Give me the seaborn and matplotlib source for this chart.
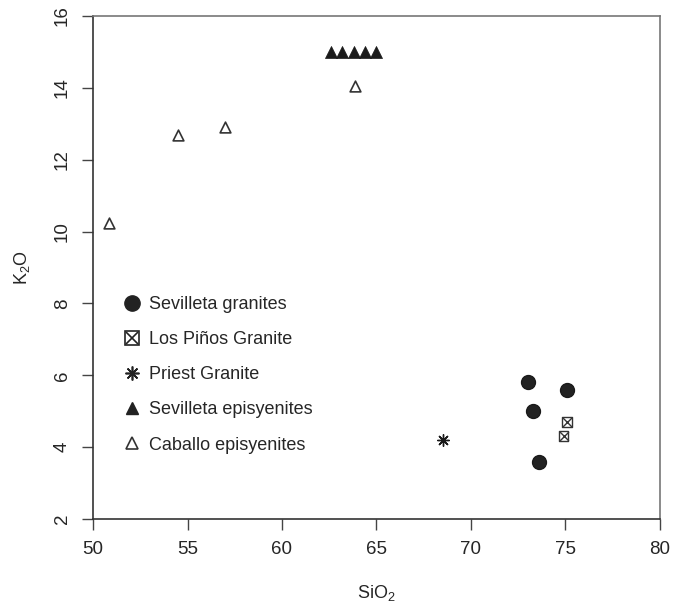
import pandas as pd
import seaborn as sns
import matplotlib.pyplot as plt
from matplotlib.lines import Line2D
from matplotlib.legend_handler import HandlerTuple

# SiO2 / K2O values
sev_granite_sio2 = [73.0, 75.1, 73.3, 73.6]
sev_granite_k2o = [5.8, 5.6, 5.0, 3.6]

pinos_sio2 = [75.1, 74.9]
pinos_k2o = [4.7, 4.3]

priest_sio2 = [68.5]
priest_k2o = [4.2]

sev_epi_sio2 = [62.6, 63.2, 63.8, 64.4, 65.0]
sev_epi_k2o = [15.0, 15.0, 15.0, 15.0, 15.0]

caballo_sio2 = [50.85, 54.5, 57.0, 63.85]
caballo_k2o = [10.25, 12.7, 12.9, 14.05]

labels = ['Sevilleta granites', 'Los Piños Granite', 'Priest Granite',
          'Sevilleta episyenites', 'Caballo episyenites']


def main():
    sns.set_style('white')
    plt.rcParams['font.family'] = ['Liberation Sans', 'DejaVu Sans']
    plt.rcParams['mathtext.default'] = 'regular'

    fig, ax = plt.subplots(figsize=(6.86, 6.08), dpi=100)
    fig.subplots_adjust(left=0.1356, right=0.962, top=0.9737, bottom=0.1464)

    ink = '#1a1a1a'
    sns.scatterplot(x=sev_granite_sio2, y=sev_granite_k2o, marker='o', s=100,
                    color='#222222', edgecolor=ink, linewidth=1, ax=ax)
    sns.scatterplot(x=pinos_sio2, y=pinos_k2o, marker='s', s=50,
                    facecolor='none', edgecolor='#333333', linewidth=1, ax=ax)
    sns.scatterplot(x=pinos_sio2, y=pinos_k2o, marker='x', s=40,
                    color='#333333', linewidth=1, ax=ax)
    sns.scatterplot(x=priest_sio2, y=priest_k2o, marker=(8, 2, 0), s=70,
                    color=ink, linewidth=1, ax=ax)
    sns.scatterplot(x=sev_epi_sio2, y=sev_epi_k2o, marker='^', s=75,
                    color=ink, edgecolor=ink, linewidth=0.5, ax=ax)
    sns.scatterplot(x=caballo_sio2, y=caballo_k2o, marker='^', s=60,
                    facecolor='white', edgecolor='#333333', linewidth=1.2, ax=ax)

    ax.set_xlim(50, 80)
    ax.set_ylim(2, 16)
    ax.set_xticks(range(50, 81, 5))
    ax.set_yticks(range(2, 17, 2))
    ax.tick_params(axis='both', direction='out', length=8, width=1,
                   color='#444444', labelsize=13.5, bottom=True, left=True, pad=8)
    for lbl in ax.get_yticklabels():
        lbl.set_rotation(90)
        lbl.set_va('center')
    for side in ['left', 'right', 'top', 'bottom']:
        ax.spines[side].set_visible(True)
        ax.spines[side].set_color('#333333')
        ax.spines[side].set_linewidth(1.2)
    ax.spines['top'].set_color('#777777')
    ax.spines['right'].set_color('#777777')

    ax.set_xlabel('SiO$_2$', fontsize=13, labelpad=18)
    ax.set_ylabel('K$_2$O', fontsize=13, labelpad=16)

    # legend handles
    h_circle = Line2D([], [], ls='none', marker='o', markersize=11,
                      color='#222222')
    h_sq = Line2D([], [], ls='none', marker='s', markersize=10,
                  markerfacecolor='none', markeredgecolor='#222222',
                  markeredgewidth=1.2)
    h_x = Line2D([], [], ls='none', marker='x', markersize=9,
                 color='#222222', markeredgewidth=1.2)
    h_ast = Line2D([], [], ls='none', marker=(8, 2, 0), markersize=10,
                   color='#222222', markeredgewidth=1.2)
    h_tri = Line2D([], [], ls='none', marker='^', markersize=9,
                   color='#222222')
    h_otri = Line2D([], [], ls='none', marker='^', markersize=9,
                    markerfacecolor='white', markeredgecolor='#333333',
                    markeredgewidth=1.2)
    ax.legend([h_circle, (h_sq, h_x), h_ast, h_tri, h_otri], labels,
              handler_map={tuple: HandlerTuple(ndivide=1)},
              loc='upper left', bbox_to_anchor=(0.025, 0.475),
              frameon=False, fontsize=13, labelspacing=1.0,
              handlelength=1.0, handletextpad=0.4)

    plt.savefig('out.png', dpi=100)


if __name__ == '__main__':
    main()
